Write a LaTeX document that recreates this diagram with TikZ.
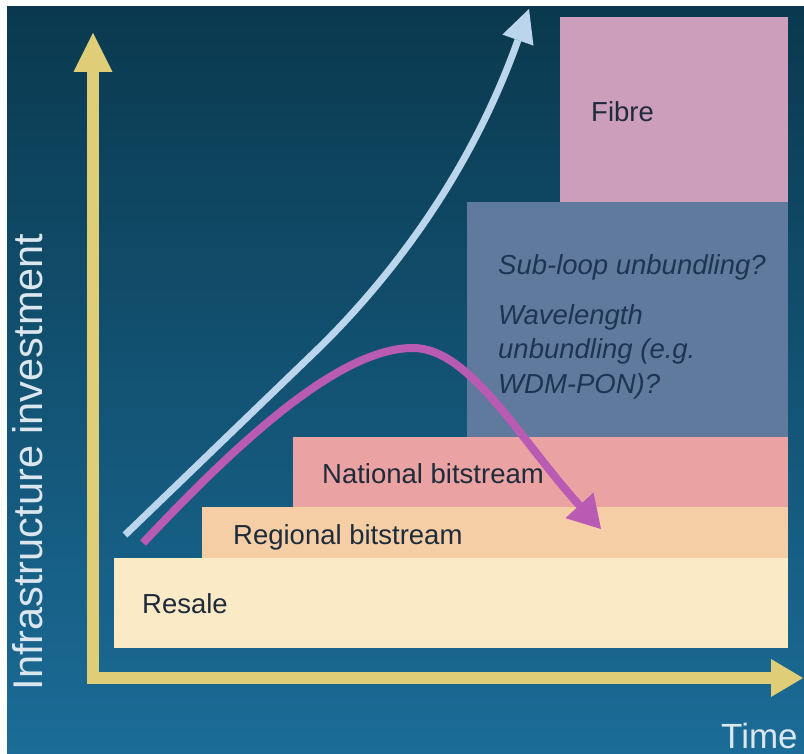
\documentclass[tikz,border=0pt]{standalone}
\usepackage{fontspec}
\setmainfont{Liberation Sans}
\usetikzlibrary{arrows.meta}
\definecolor{bgtop}{HTML}{0A394E}
\definecolor{bgbot}{HTML}{1B6C98}
\definecolor{axisyel}{HTML}{DFCD78}
\definecolor{resalec}{HTML}{FBEAC6}
\definecolor{regionc}{HTML}{F6CEA6}
\definecolor{nationc}{HTML}{EAA3A2}
\definecolor{subc}{HTML}{5F7A9C}
\definecolor{fibrec}{HTML}{CC9EBC}
\definecolor{lblue}{HTML}{BAD5EC}
\definecolor{magc}{HTML}{B95AB3}
\definecolor{darktxt}{HTML}{1E2B3A}
\definecolor{subtxt}{HTML}{1D3552}
\definecolor{lighttxt}{HTML}{DCE6EE}
\tikzset{
  boxtxt/.style={anchor=base west, inner sep=0pt, text=darktxt, font=\fontsize{27.5}{32}\selectfont},
  subtxtsty/.style={anchor=base west, inner sep=0pt, text=subtxt, font=\fontsize{27.5}{32}\selectfont\itshape},
  axlabel/.style={inner sep=0pt, text=lighttxt},
  axisline/.style={draw=axisyel, line width=12.5pt, line join=miter},
  lbarrow/.style={draw=lblue, line width=7pt, -{Triangle[length=33pt,width=33pt,line width=0pt]}},
  magarrow/.style={draw=magc, line width=8pt, -{Triangle[length=32pt,width=38pt,line width=0pt]}}
}
\begin{document}
\begin{tikzpicture}[x=1pt,y=-1pt]
\useasboundingbox (0,0) rectangle (804,754);
\fill[white] (0,0) rectangle (804,754);
\shade[top color=bgtop,bottom color=bgbot] (7,7) rectangle (804,754);

% boxes
\fill[resalec] (114,558) rectangle (788,648);
\fill[regionc] (202,507) rectangle (788,558);
\fill[nationc] (293,437) rectangle (788,507);
\fill[subc] (467,202) rectangle (788,437);
\fill[fibrec] (560,17) rectangle (788,202);

% texts
\node[boxtxt] (fibre) at (591,122) {Fibre};
\node[subtxtsty] (sub) at (498,275) {Sub-loop unbundling?};
\node[subtxtsty] (wave1) at (498,325) {Wavelength};
\node[subtxtsty] (wave2) at (498,359) {unbundling (e.g.};
\node[subtxtsty] (wave3) at (498,393) {WDM-PON)?};
\node[boxtxt] (national) at (322,483) {National bitstream};
\node[boxtxt] (regional) at (233,544) {Regional bitstream};
\node[boxtxt] (resale) at (142,613) {Resale};

% axes
\coordinate (ytip) at (93,33);
\coordinate (corner) at (93,678);
\coordinate (xtip) at (803,678);
\draw[axisline, {Triangle[length=39pt,width=39pt,line width=0pt]}-{Triangle[length=32pt,width=38pt,line width=0pt]}] (ytip) -- (corner) -- (xtip);

\node[axlabel, rotate=90, anchor=base, font=\fontsize{41.5}{48}\selectfont] (ylabel) at (42,462) {Infrastructure investment};
\node[axlabel, anchor=base west, font=\fontsize{35}{40}\selectfont] (xlabel) at (721,748) {Time};

% curves
\coordinate (lbS) at (125,535);
\coordinate (lbM) at (320,347);
\coordinate (lbE) at (529,9);
\draw[lbarrow] (lbS) -- (lbM) .. controls (390,278) and (470,175) .. (lbE);

\coordinate (mgS) at (143,543);
\coordinate (mgT) at (413,348);
\coordinate (mgE) at (601,529);
\draw[magarrow] (mgS) .. controls (240,440) and (340,348) .. (mgT) .. controls (470,348) and (520,440) .. (mgE);
\end{tikzpicture}
\end{document}
